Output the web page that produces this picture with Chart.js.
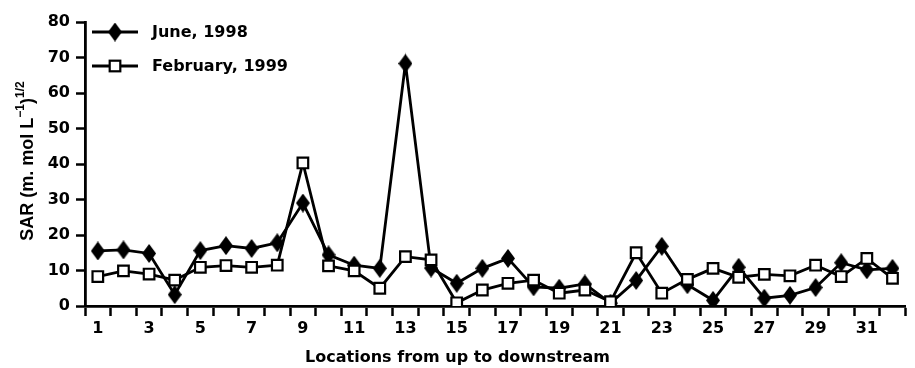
<!DOCTYPE html>
<html>
<head>
<meta charset="utf-8">
<script src="https://cdn.jsdelivr.net/npm/chart.js@4.4.1/dist/chart.umd.min.js"></script>
<style>
  html, body { margin: 0; padding: 0; background: #fff; }
  #wrap { width: 915px; height: 368px; }
</style>
</head>
<body>
<div id="wrap"><canvas id="c" width="915" height="368"></canvas></div>
<script>
// Sampling locations, numbered from upstream to downstream
const locations = Array.from({ length: 32 }, (_, i) => String(i + 1));

// SAR values for the two sampling campaigns
const june1998 = [15.5, 15.8, 14.8, 3.2, 15.6, 17.0, 16.2, 17.8, 29.0, 14.4, 11.5, 10.6,
                  68.3, 10.7, 6.4, 10.6, 13.4, 5.4, 5.0, 6.2, 0.8, 7.2, 16.8, 6.0,
                  1.6, 10.9, 2.2, 3.0, 5.2, 12.2, 10.2, 10.6];
const feb1999  = [8.3, 9.9, 9.0, 7.3, 10.9, 11.4, 10.9, 11.5, 40.3, 11.3, 9.9, 5.0,
                  13.9, 13.0, 0.9, 4.5, 6.4, 7.3, 3.6, 4.5, 1.2, 15.0, 3.6, 7.5,
                  10.6, 8.1, 8.9, 8.5, 11.5, 8.3, 13.4, 7.8];

const seriesNames = ['June, 1998', 'February, 1999'];
const yTicks = [0, 10, 20, 30, 40, 50, 60, 70, 80];
const xTitle = 'Locations from up to downstream';

const FONT = "'DejaVu Sans', 'Liberation Sans', Arial, sans-serif";
const TITLE_FONT = "'Liberation Sans', Arial, sans-serif";
const LW = 2.8;
const SQ_RADIUS = 7.5;   // Chart.js 'rect' side = radius * sqrt(2)
const SQ_BORDER = 2.2;

// Filled diamond, a little taller than wide
function diamondSprite(halfW, halfH) {
  const c = document.createElement('canvas');
  c.width = Math.ceil(halfW * 2); c.height = Math.ceil(halfH * 2);
  const g = c.getContext('2d');
  const cx = c.width / 2, cy = c.height / 2;
  g.beginPath();
  g.moveTo(cx, cy - halfH); g.lineTo(cx + halfW, cy); g.lineTo(cx, cy + halfH); g.lineTo(cx - halfW, cy);
  g.closePath();
  g.fillStyle = '#000'; g.fill();
  return c;
}
const diamondImg = diamondSprite(7, 9.5);

// Key and axis titles (the y title carries superscripts)
const decorations = {
  id: 'decorations',
  afterDraw(chart) {
    const ctx = chart.ctx;
    const a = chart.chartArea;
    ctx.save();

    const keyRows = [
      { y: a.top + 10, label: seriesNames[0], mark: 'diamond' },
      { y: a.top + 44, label: seriesNames[1], mark: 'square' }
    ];
    keyRows.forEach(row => {
      const x0 = a.left + 7, x1 = a.left + 53, xm = Math.round((x0 + x1) / 2);
      ctx.strokeStyle = '#000'; ctx.lineWidth = LW;
      ctx.beginPath(); ctx.moveTo(x0, row.y); ctx.lineTo(x1, row.y); ctx.stroke();
      if (row.mark === 'diamond') {
        ctx.drawImage(diamondImg, xm - diamondImg.width / 2, row.y - diamondImg.height / 2);
      } else {
        const h = SQ_RADIUS * Math.SQRT1_2;
        ctx.fillStyle = '#fff';
        ctx.fillRect(xm - h, row.y - h, 2 * h, 2 * h);
        ctx.lineWidth = SQ_BORDER; ctx.strokeStyle = '#000';
        ctx.strokeRect(xm - h, row.y - h, 2 * h, 2 * h);
      }
      ctx.fillStyle = '#000';
      ctx.font = 'bold 16px ' + FONT;
      ctx.textAlign = 'left'; ctx.textBaseline = 'middle';
      ctx.fillText(row.label, a.left + 67, row.y + 1);
    });

    // x title, centred on the canvas
    ctx.font = 'bold 16px ' + FONT;
    ctx.textAlign = 'center'; ctx.textBaseline = 'middle';
    ctx.fillStyle = '#000';
    ctx.fillText(xTitle, chart.width / 2, 358);

    // y title: SAR (m. mol L^-1)^1/2
    const parts = [
      { t: 'SAR (m. mol L', sup: false },
      { t: '\u22121', sup: true },
      { t: ')', sup: false },
      { t: '1/2', sup: true }
    ];
    const mainFont = 'bold 18px ' + TITLE_FONT, supFont = 'bold 12px ' + TITLE_FONT;
    let total = 0;
    parts.forEach(p => { ctx.font = p.sup ? supFont : mainFont; p.w = ctx.measureText(p.t).width; total += p.w; });
    ctx.translate(28, (a.top + a.bottom) / 2 - 3);
    ctx.rotate(-Math.PI / 2);
    ctx.textAlign = 'left'; ctx.textBaseline = 'middle';
    let x = -total / 2;
    parts.forEach(p => {
      ctx.font = p.sup ? supFont : mainFont;
      ctx.fillText(p.t, x, p.sup ? -7 : 0);
      x += p.w;
    });
    ctx.restore();
  }
};

new Chart(document.getElementById('c'), {
  type: 'line',
  data: {
    labels: locations,
    datasets: [
      {
        label: seriesNames[0],
        data: june1998,
        borderColor: '#000',
        borderWidth: LW,
        backgroundColor: '#000',
        pointStyle: diamondImg,
        tension: 0,
        order: 1
      },
      {
        label: seriesNames[1],
        data: feb1999,
        borderColor: '#000',
        borderWidth: LW,
        backgroundColor: '#fff',
        pointStyle: 'rect',
        pointRadius: SQ_RADIUS,
        pointBorderWidth: SQ_BORDER,
        pointBorderColor: '#000',
        pointBackgroundColor: '#fff',
        tension: 0,
        order: 0
      }
    ]
  },
  options: {
    responsive: false,
    devicePixelRatio: 1,
    animation: false,
    // negative right padding lets the plot run to the canvas edge
    layout: { padding: { top: 22, right: -13.5, bottom: 0, left: 0 } },
    plugins: {
      legend: { display: false },
      tooltip: { enabled: false }
    },
    scales: {
      x: {
        type: 'category',
        offset: true,
        grid: {
          offset: true,
          drawOnChartArea: false,
          drawTicks: true,
          tickLength: 10,
          tickWidth: 2.5,
          tickColor: '#000'
        },
        border: { display: true, color: '#000', width: 2.8 },
        ticks: {
          autoSkip: false,
          maxRotation: 0,
          color: '#000',
          padding: 3,
          font: { family: FONT, size: 16, weight: 'bold' },
          callback: function (value, index) {
            return index % 2 === 0 ? this.getLabelForValue(value) : '';
          }
        },
        afterFit(scale) {
          scale.height = 62;
          scale.paddingLeft = 0;
          scale.paddingRight = 0;
        }
      },
      y: {
        min: 0,
        max: 80,
        afterBuildTicks(scale) { scale.ticks = yTicks.map(v => ({ value: v })); },
        grid: {
          drawOnChartArea: false,
          drawTicks: true,
          tickLength: 9,
          tickWidth: 2.5,
          tickColor: '#000'
        },
        border: { display: true, color: '#000', width: 2.8 },
        ticks: {
          color: '#000',
          padding: 6,
          font: { family: FONT, size: 16, weight: 'bold' }
        },
        afterFit(scale) {
          scale.width = 85;
          scale.paddingTop = 0;
          scale.paddingBottom = 0;
        }
      }
    }
  },
  plugins: [decorations]
});
</script>
</body>
</html>
